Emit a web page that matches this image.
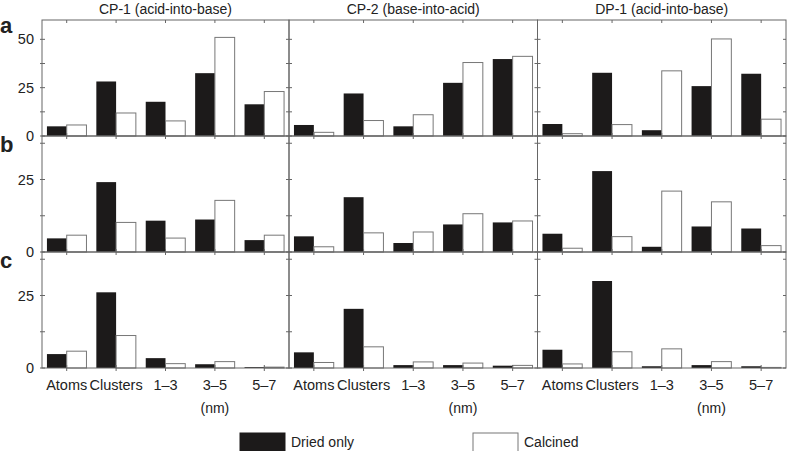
<!DOCTYPE html>
<html lang="en">
  <head>
    <meta charset="UTF-8" />
    <title>Particle size distribution</title>
    <script src="https://d3js.org/d3.v7.min.js"></script>
    <style>
      body { margin: 0; background: #fff; }
      text { font-family: 'Liberation Sans', Arial, sans-serif; fill: #222; }
    </style>
  </head>
  <body>
    <div id="chart"></div>

    <script>
      const categories = ['Atoms', 'Clusters', '1–3', '3–5', '5–7'];
      const samples = ['CP-1 (acid-into-base)', 'CP-2 (base-into-acid)', 'DP-1 (acid-into-base)'];
      const rowLetters = ['a', 'b', 'c'];
      const rowMax = [60, 40, 40];
      const rowTickLabels = [[0, 25, 50], [0, 25], [0, 25]];

      // one inner array per sample (CP-1, CP-2, DP-1)
      const driedA = [[5, 28.2, 17.7, 32.5, 16.4], [5.7, 22, 5, 27.5, 39.8], [6.2, 32.7, 3, 25.8, 32.2]];
      const calcinedA = [[5.7, 11.9, 7.8, 51, 23], [1.9, 8, 11, 38, 41.2], [1.2, 5.9, 33.7, 50.2, 8.7]];
      const driedB = [[4.7, 24.1, 10.8, 11.2, 4.1], [5.4, 18.9, 3.1, 9.5, 10.2], [6.3, 27.9, 1.8, 8.8, 8.1]];
      const calcinedB = [[5.8, 10.2, 4.8, 17.8, 5.8], [1.8, 6.6, 6.9, 13.2, 10.7], [1.3, 5.3, 21, 17.3, 2.2]];
      const driedC = [[4.8, 26.1, 3.4, 1.3, 0.3], [5.4, 20.4, 1, 1, 0.8], [6.3, 30, 0.6, 1, 0.6]];
      const calcinedC = [[5.8, 11.2, 1.5, 2.2, 0.3], [1.9, 7.3, 2.1, 1.7, 0.9], [1.4, 5.6, 6.6, 2.2, 0.2]];

      const rows = [
        { dried: driedA, calcined: calcinedA },
        { dried: driedB, calcined: calcinedB },
        { dried: driedC, calcined: calcinedC },
      ];

      const width = 788;
      const height = 451;
      const colX = [42, 289, 537.5, 786];
      const rowY = [20, 136, 252, 368];
      const axisColor = '#666';

      const svg = d3
        .select('#chart')
        .append('svg')
        .attr('width', width)
        .attr('height', height);

      // titles above columns
      samples.forEach((s, i) => {
        svg
          .append('text')
          .attr('x', (colX[i] + colX[i + 1]) / 2)
          .attr('y', 14)
          .attr('text-anchor', 'middle')
          .style('font-size', '14px')
          .text(s);
      });

      rows.forEach((row, r) => {
        const y = d3
          .scaleLinear()
          .domain([0, rowMax[r]])
          .range([rowY[r + 1], rowY[r]]);

        const minorTicks = d3.range(0, rowMax[r] + 0.01, 12.5);

        svg
          .append('text')
          .attr('x', 0)
          .attr('y', rowY[r] + (r === 0 ? 13 : 16))
          .style('font-size', '22px')
          .style('font-weight', 'bold')
          .text(rowLetters[r]);

        // y labels only on first column
        svg
          .append('g')
          .selectAll('text')
          .data(rowTickLabels[r])
          .enter()
          .append('text')
          .attr('x', 34)
          .attr('y', (d) => y(d) + 5)
          .attr('text-anchor', 'end')
          .style('font-size', '14.5px')
          .text((d) => d);

        samples.forEach((s, c) => {
          const x = d3
            .scaleBand()
            .domain(categories)
            .range([colX[c], colX[c + 1]])
            .paddingInner(0.2)
            .paddingOuter(0.1);

          const sub = d3
            .scaleBand()
            .domain(['dried', 'calcined'])
            .range([0, x.bandwidth()]);

          const g = svg.append('g');

          const pairs = categories.map((cat, k) => ({
            cat: cat,
            dried: row.dried[c][k],
            calcined: row.calcined[c][k],
          }));

          g.selectAll('rect.dried')
            .data(pairs)
            .enter()
            .append('rect')
            .attr('class', 'dried')
            .attr('x', (d) => x(d.cat) + sub('dried'))
            .attr('y', (d) => y(d.dried))
            .attr('width', sub.bandwidth())
            .attr('height', (d) => y(0) - y(d.dried))
            .attr('fill', '#1c1a1a');

          g.selectAll('rect.calcined')
            .data(pairs)
            .enter()
            .append('rect')
            .attr('class', 'calcined')
            .attr('x', (d) => x(d.cat) + sub('calcined'))
            .attr('y', (d) => y(d.calcined))
            .attr('width', sub.bandwidth())
            .attr('height', (d) => y(0) - y(d.calcined))
            .attr('fill', '#fff')
            .attr('stroke', '#777')
            .attr('stroke-width', 1);

          // frame
          g.append('rect')
            .attr('x', colX[c])
            .attr('y', rowY[r])
            .attr('width', colX[c + 1] - colX[c])
            .attr('height', rowY[r + 1] - rowY[r])
            .attr('fill', 'none')
            .attr('stroke', axisColor)
            .attr('stroke-width', 1);

          // inward ticks on left and right
          g.selectAll('line.yl')
            .data(minorTicks)
            .enter()
            .append('line')
            .attr('x1', colX[c] - (c === 0 ? 2 : 0))
            .attr('x2', colX[c] + 3)
            .attr('y1', (d) => y(d))
            .attr('y2', (d) => y(d))
            .attr('stroke', axisColor);

          g.selectAll('line.yr')
            .data(minorTicks)
            .enter()
            .append('line')
            .attr('x1', colX[c + 1] - 3)
            .attr('x2', colX[c + 1])
            .attr('y1', (d) => y(d))
            .attr('y2', (d) => y(d))
            .attr('stroke', axisColor);

          // ticks at group centres, top and bottom
          g.selectAll('line.xt')
            .data(categories)
            .enter()
            .append('line')
            .attr('x1', (d) => x(d) + x.bandwidth() / 2)
            .attr('x2', (d) => x(d) + x.bandwidth() / 2)
            .attr('y1', rowY[r])
            .attr('y2', rowY[r] + 3)
            .attr('stroke', axisColor);

          g.selectAll('line.xb')
            .data(categories)
            .enter()
            .append('line')
            .attr('x1', (d) => x(d) + x.bandwidth() / 2)
            .attr('x2', (d) => x(d) + x.bandwidth() / 2)
            .attr('y1', rowY[r + 1] - 3)
            .attr('y2', rowY[r + 1] + (r === 2 ? 3 : 0))
            .attr('stroke', axisColor);

          if (r === 2) {
            g.selectAll('text.cat')
              .data(categories)
              .enter()
              .append('text')
              .attr('x', (d) => x(d) + x.bandwidth() / 2)
              .attr('y', 390)
              .attr('text-anchor', 'middle')
              .style('font-size', '14.5px')
              .text((d) => d);

            g.append('text')
              .attr('x', x('3–5') + x.bandwidth() / 2)
              .attr('y', 413)
              .attr('text-anchor', 'middle')
              .style('font-size', '14px')
              .text('(nm)');
          }
        });
      });

      // legend
      const legend = [
        { label: 'Dried only', fill: '#1c1a1a', stroke: '#1c1a1a', x: 240 },
        { label: 'Calcined', fill: '#fff', stroke: '#777', x: 473 },
      ];
      legend.forEach((l) => {
        svg
          .append('rect')
          .attr('x', l.x)
          .attr('y', 433)
          .attr('width', 45)
          .attr('height', 20)
          .attr('fill', l.fill)
          .attr('stroke', l.stroke);
        svg
          .append('text')
          .attr('x', l.x + 51)
          .attr('y', 447)
          .style('font-size', '14px')
          .text(l.label);
      });
    </script>
  </body>
</html>
